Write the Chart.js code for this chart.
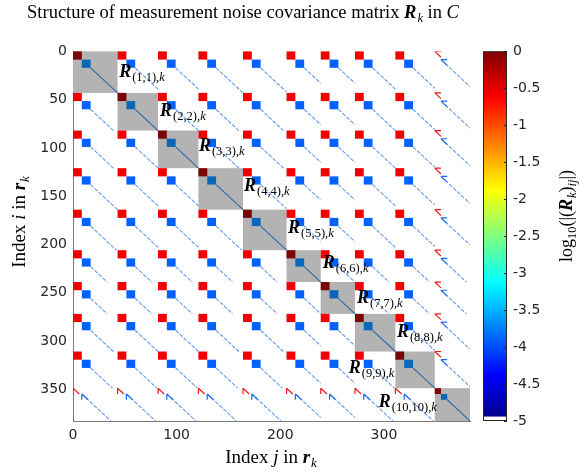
<!DOCTYPE html>
<html>
<head>
<meta charset="utf-8">
<script src="https://cdn.jsdelivr.net/npm/chart.js@4.4.1/dist/chart.umd.min.js"></script>
<style>
  html, body { margin: 0; padding: 0; background: #fff; }
  #wrap { position: relative; width: 585px; height: 475px; }
</style>
</head>
<body>
<div id="wrap"><canvas id="matrixChart" width="585" height="475"></canvas></div>
<script>
// first index of every sensor block in r_k (last entry = size of R_k)
const blockEdges = [0, 43, 82, 121, 164, 206, 239, 272, 311, 349, 383];
// number of elements in the leading sub-blocks of every sensor block
const headSize = [8.5, 8.5, 8.5, 8.5, 8.5, 8.5, 8.5, 8.5, 8.5, 6];
// log10 magnitude of the parts of R_k
const levelAuto = 0;       // leading auto terms
const levelCross = -0.55;  // leading cross terms
const levelSecond = -3.9;  // second sub-block
// axis ticks
const xTicks = [0, 100, 200, 300];
const yTicks = [0, 50, 100, 150, 200, 250, 300, 350];
const cbTicks = [0, -0.5, -1, -1.5, -2, -2.5, -3, -3.5, -4, -4.5, -5];
// where the R_(b,b),k labels sit (column, row of the baseline start)
const labelCol = [44.5, 84, 121.5, 165, 207.5, 241, 274, 312.5, 266, 295];
const labelRow = [27, 66.5, 103, 144.5, 188, 224.5, 260.5, 296, 333, 368.5];

const nBlocks = blockEdges.length - 1;
const shortBlock = nBlocks - 1;
const serif = '"Liberation Serif", "Times New Roman", serif';
const sans = '"DejaVu Sans", Arial, sans-serif';

const jetStops = [[0, [0, 0, 128]], [0.125, [0, 0, 255]], [0.375, [0, 255, 255]],
                  [0.625, [255, 255, 0]], [0.875, [255, 0, 0]], [1, [128, 0, 0]]];
function jet(v) {
  const t = Math.max(0, Math.min(1, (v + 5) / 5));
  for (let k = 1; k < jetStops.length; k++) {
    if (t <= jetStops[k][0]) {
      const [t0, c0] = jetStops[k - 1], [t1, c1] = jetStops[k];
      const f = (t - t0) / (t1 - t0);
      return 'rgb(' + c0.map((c, n) => Math.round(c + (c1[n] - c) * f)).join(',') + ')';
    }
  }
  return 'rgb(128,0,0)';
}

// diagonal lines and reduced cross terms
const onDiagLine = [], offDiagLine = [], redStrokes = [], blueStrokes = [];
function seg(arr, c0, r0, c1, r1) {
  arr.push({ x: c0, y: r0 }, { x: c1, y: r1 }, { x: null, y: null });
}
for (let i = 0; i < nBlocks; i++) {
  for (let j = 0; j < nBlocks; j++) {
    const si = blockEdges[i], ei = blockEdges[i + 1];
    const sj = blockEdges[j], ej = blockEdges[j + 1];
    const hi = headSize[i], hj = headSize[j];
    if (i === j) {
      seg(onDiagLine, si + 2 * hi, si + 2 * hi, ei, ei);
      continue;
    }
    const thin = i === shortBlock || j === shortBlock;
    const c0 = thin ? sj + hj : sj + 2 * hj;
    const r0 = thin ? si + hi : si + 2 * hi;
    const L = Math.min(ej - c0, ei - r0);
    seg(offDiagLine, c0, r0, c0 + L, r0 + L);
    if (thin) {
      const h = Math.min(hi, hj);
      [[sj, si, redStrokes], [sj + hj, si + hi, blueStrokes]].forEach(([c, r, arr]) => {
        if (i === shortBlock) seg(arr, c, r, c, r + h);
        else seg(arr, c, r, c + h, r);
        seg(arr, c, r, c + h, r + h);
      });
    }
  }
}

function drawRich(ctx, runs, x, y, align) {
  let w = 0;
  runs.forEach(r => { ctx.font = r.font; r.w = ctx.measureText(r.text).width + (r.gap || 0); w += r.w; });
  let cx = align === 'center' ? x - w / 2 : x;
  runs.forEach(r => {
    ctx.font = r.font;
    ctx.fillText(r.text, cx, y + (r.dy || 0));
    cx += r.w;
  });
}
const run = (text, style, size, dy, gap) => ({ text, font: style + ' ' + size + 'px ' + serif, dy, gap });

const marksPlugin = {
  id: 'marks',
  beforeDatasetsDraw(chart) {
    const { ctx, scales: { x, y } } = chart;
    ctx.save();
    ctx.fillStyle = '#b3b3b3';
    for (let b = 0; b < nBlocks; b++) {
      const s = blockEdges[b], e = blockEdges[b + 1];
      ctx.fillRect(x.getPixelForValue(s), y.getPixelForValue(s),
        x.getPixelForValue(e) - x.getPixelForValue(s), y.getPixelForValue(e) - y.getPixelForValue(s));
    }
    ctx.restore();
  },
  afterDatasetsDraw(chart) {
    const { ctx, scales: { x, y, cb } } = chart;
    const box = (c0, c1, r0, r1, color) => {
      ctx.fillStyle = color;
      ctx.fillRect(x.getPixelForValue(c0), y.getPixelForValue(r0),
        x.getPixelForValue(c1) - x.getPixelForValue(c0), y.getPixelForValue(r1) - y.getPixelForValue(r0));
    };
    ctx.save();
    for (let i = 0; i < nBlocks; i++) {
      for (let j = 0; j < nBlocks; j++) {
        const si = blockEdges[i], sj = blockEdges[j], hi = headSize[i], hj = headSize[j];
        if (i === j) {
          box(si, si + hi, si, si + hi, '#7a0505');
          box(si + hi, si + 2 * hi, si + hi, si + 2 * hi, '#0a66b8');
        } else if (i !== shortBlock && j !== shortBlock) {
          box(sj, sj + hj, si, si + hi, jet(levelCross));
          box(sj + hj, sj + 2 * hj, si + hi, si + 2 * hi, jet(levelSecond));
        }
      }
    }
    // block labels
    ctx.fillStyle = '#000';
    ctx.textBaseline = 'alphabetic';
    for (let b = 0; b < nBlocks; b++) {
      drawRich(ctx, [run('R', 'bold italic', 18, 0, 1), run('(' + (b + 1) + ',' + (b + 1) + '),', 'normal', 12.5, 4),
        run('k', 'italic', 12.5, 4)], x.getPixelForValue(labelCol[b]), y.getPixelForValue(labelRow[b]), 'left');
    }
    ctx.restore();

    // colorbar
    const top = cb.getPixelForValue(0), bot = cb.getPixelForValue(-5);
    const left = 483, right = 507;
    const grad = ctx.createLinearGradient(0, bot, 0, top);
    jetStops.forEach(([t, c]) => grad.addColorStop(t, 'rgb(' + c.join(',') + ')'));
    ctx.save();
    ctx.fillStyle = grad;
    ctx.fillRect(left, top, right - left, bot - top);
    ctx.fillStyle = '#fff';
    ctx.fillRect(left, cb.getPixelForValue(-4.94), right - left, bot - cb.getPixelForValue(-4.94));
    ctx.strokeStyle = '#262626';
    ctx.lineWidth = 1;
    ctx.strokeRect(left + 0.5, top + 0.5, right - left - 1, bot - top - 1);
    cbTicks.forEach(v => {
      const py = Math.round(cb.getPixelForValue(v)) + 0.5;
      ctx.beginPath();
      ctx.moveTo(right - 3, py); ctx.lineTo(right, py);
      ctx.stroke();
    });
    ctx.restore();

    // title and axis labels
    ctx.save();
    ctx.fillStyle = '#000';
    drawRich(ctx, [run('Structure of measurement noise covariance matrix ', 'normal', 18.5),
      run('R', 'bold italic', 18.5, 0, 1), run('k', 'italic', 12.5, 4), run(' in ', 'normal', 18.5), run('C', 'italic', 18.5)],
      243, 18, 'center');
    drawRich(ctx, [run('Index ', 'normal', 19), run('j', 'italic', 19), run(' in ', 'normal', 19),
      run('r', 'bold italic', 19, 0, 1), run('k', 'italic', 13, 4)], 271, 463, 'center');
    ctx.translate(25, 222);
    ctx.rotate(-Math.PI / 2);
    drawRich(ctx, [run('Index ', 'normal', 19), run('i', 'italic', 19), run(' in ', 'normal', 19),
      run('r', 'bold italic', 19, 0, 1), run('k', 'italic', 13, 4)], 0, 0, 'center');
    ctx.restore();
    ctx.save();
    ctx.fillStyle = '#000';
    ctx.translate(572, 216);
    ctx.rotate(-Math.PI / 2);
    drawRich(ctx, [run('log', 'normal', 18), run('10', 'normal', 12.5, 4), run('(|(', 'normal', 18),
      run('R', 'bold italic', 18, 0, 1), run('k', 'italic', 12.5, 4), run(')', 'normal', 18),
      run('ij', 'italic', 12.5, 4), run('|)', 'normal', 18)], 0, 0, 'center');
    ctx.restore();
  }
};

const lineSet = (data, color, width, dash) => ({
  data, showLine: true, spanGaps: false, borderColor: color, borderWidth: width,
  borderDash: dash || [], pointRadius: 0, pointHoverRadius: 0, fill: false
});

const ctx = document.getElementById('matrixChart').getContext('2d');
const matrixChart = new Chart(ctx, {
  type: 'scatter',
  data: {
    datasets: [
      lineSet(offDiagLine, 'rgba(45,120,235,0.75)', 1.1, [4, 1.5]),
      lineSet(onDiagLine, '#2a68a8', 1.1),
      lineSet(redStrokes, '#f01818', 1.2),
      lineSet(blueStrokes, '#1a66f0', 1.2)
    ]
  },
  options: {
    responsive: false,
    animation: false,
    layout: { padding: { top: 25, left: 0, right: 0, bottom: 0 } },
    plugins: { legend: { display: false }, tooltip: { enabled: false } },
    scales: {
      x: {
        type: 'linear', position: 'bottom', min: 0, max: 383,
        afterBuildTicks: s => { s.ticks = xTicks.map(v => ({ value: v })); },
        afterFit: s => { s.height = 54; },
        grid: { display: false, drawTicks: false },
        border: { display: true, color: '#7a7a7a', width: 1 },
        ticks: { padding: 6, color: '#262626', font: { family: sans, size: 14 }, maxRotation: 0 }
      },
      y: {
        type: 'linear', position: 'left', min: 0, max: 383, reverse: true,
        afterBuildTicks: s => { s.ticks = yTicks.map(v => ({ value: v })); },
        afterFit: s => { s.width = 73; },
        grid: { display: false, drawTicks: false },
        border: { display: true, color: '#7a7a7a', width: 1 },
        ticks: { padding: 6, color: '#262626', font: { family: sans, size: 14 } }
      },
      cb: {
        type: 'linear', axis: 'y', position: 'right', min: -5, max: 0,
        afterBuildTicks: s => { s.ticks = cbTicks.map(v => ({ value: v })); },
        afterFit: s => { s.width = 115; },
        grid: { display: false, drawTicks: false },
        border: { display: false },
        ticks: { padding: 43, color: '#262626', font: { family: sans, size: 14 },
                 callback: v => String(v) }
      }
    }
  },
  plugins: [marksPlugin]
});
</script>
</body>
</html>
